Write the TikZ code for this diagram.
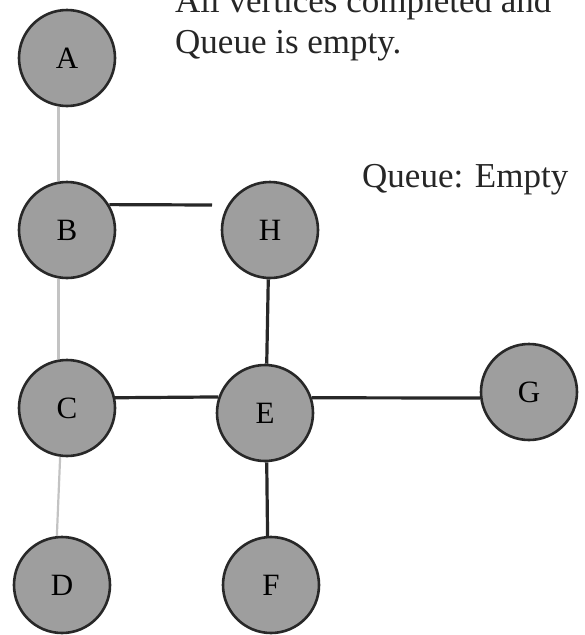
\documentclass[tikz,border=0pt]{standalone}
\usepackage{fontspec}
\setmainfont{Liberation Serif}
\usepackage{xcolor}
\usetikzlibrary{positioning}

\definecolor{vfill}{RGB}{158,158,158}
\definecolor{vline}{RGB}{40,40,40}
\definecolor{treeline}{RGB}{195,195,195}

\begin{document}
\begin{tikzpicture}[x=1pt, y=-1pt,
    vertex/.style={circle, draw=vline, fill=vfill, line width=2.6pt,
        minimum size=96pt, inner sep=0pt, font=\fontsize{31}{34}\selectfont},
    visited/.style={draw=treeline, line width=2.2pt},
    queued/.style={draw=vline, line width=3.2pt},
    caption/.style={font=\fontsize{35}{41}\selectfont, text=black!85, inner sep=0pt}]
    \useasboundingbox (0,0) rectangle (585,635);

    % Đỉnh của đồ thị
    \node[vertex] (A) at (67,58) {A};
    \node[vertex] (B) at (67,230) {B};
    \node[vertex] (H) at (270,230) {H};
    \node[vertex] (C) at (67,408) {C};
    \node[vertex] (E) at (265,413) {E};
    \node[vertex] (G) at (529,392) {G};
    \node[vertex] (D) at (62,585) {D};
    \node[vertex] (F) at (271,585) {F};

    % Chú thích
    \node[caption, anchor=base west, align=left] (note) at (175,53)
        {All vertices completed and\\Queue is empty.};
    \node[caption, anchor=base west] (queue) at (362,187) {Queue: Empty};

    % Cạnh nhạt: A -- B -- C -- D
    \draw[visited] (A.260) -- (B.100);
    \draw[visited] (B.260) -- (C.100);
    \draw[visited] (C.262) -- (D.96);

    % Cạnh đậm
    \coordinate (Hend) at (212,205);
    \draw[queued] (B.31) -- (Hend);
    \draw[queued] (H.268) -- (E.88);
    \draw[queued] (C.12) -- (E.161);
    \draw[queued] (E.18) -- (G.187);
    \draw[queued] (E.272) -- (F.94);
\end{tikzpicture}
\end{document}
